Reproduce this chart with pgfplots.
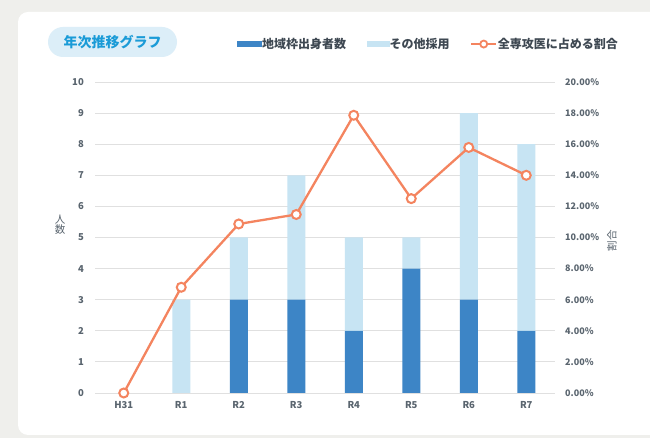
\documentclass[border=0pt]{standalone}
\usepackage{pgfplots}
\pgfplotsset{compat=1.18}
\usepackage{fontspec}
\setmainfont{Noto Sans CJK JP}
\definecolor{bgcol}{HTML}{EFEFEC}
\definecolor{darkbar}{HTML}{3D85C6}
\definecolor{lightbar}{HTML}{C7E4F3}
\definecolor{lineor}{HTML}{F4845F}
\definecolor{txtgray}{HTML}{5A656F}
\definecolor{legtxt}{HTML}{3E4852}
\definecolor{titleblue}{HTML}{1A9BD7}
\definecolor{pill}{HTML}{DCEEF8}
\definecolor{gridc}{HTML}{E0E0E0}
\begin{document}
\begin{tikzpicture}[x=1bp,y=1bp]
\useasboundingbox (0,0) rectangle (650,438);
\fill[bgcol] (0,0) rectangle (650,438);
\fill[white, rounded corners=10bp] (18,3) rectangle (680,426);
% title pill
\fill[pill, rounded corners=15bp] (48,381) rectangle (177,411);
\node[text=titleblue, font=\bfseries\fontsize{14bp}{16bp}\selectfont] at (112.5,396) {年次推移グラフ};
% axis titles
\node[text=txtgray, font=\fontsize{10.5bp}{11bp}\selectfont, align=center] at (60,213) {人\\[-1bp]数};
\node[text=txtgray, font=\fontsize{10.5bp}{11bp}\selectfont, rotate=90] at (612,197) {割合};
\begin{axis}[
  at={(95bp,45bp)}, anchor=south west,
  scale only axis, width=460bp, height=311bp,
  xmin=-0.5, xmax=7.5, ymin=0, ymax=10,
  ybar stacked, bar width=18bp,
  xtick={0,...,7},
  xticklabels={H31,R1,R2,R3,R4,R5,R6,R7},
  ytick={0,...,10},
  ymajorgrids, grid style={gridc, line width=0.9bp},
  axis line style={draw=none},
  major tick length=0pt,
  tick label style={text=txtgray, font=\bfseries\fontsize{9.5bp}{11bp}\selectfont},
  /pgf/number format/assume math mode=true,
  xticklabel style={inner sep=0pt, anchor=north, yshift=-8bp},
  yticklabel style={inner sep=0pt, anchor=east, xshift=-11bp},
]
\addplot[fill=darkbar, draw=none] coordinates {(0,0) (1,0) (2,3) (3,3) (4,2) (5,4) (6,3) (7,2)};
\addplot[fill=lightbar, draw=none] coordinates {(0,0) (1,3) (2,2) (3,4) (4,3) (5,1) (6,6) (7,6)};
\end{axis}
\begin{axis}[
  at={(95bp,45bp)}, anchor=south west,
  scale only axis, width=460bp, height=311bp,
  xmin=-0.5, xmax=7.5, ymin=0, ymax=20,
  axis y line*=right, axis x line=none,
  axis line style={draw=none},
  ytick={0,2,...,20},
  major tick length=0pt,
  yticklabel={\pgfmathprintnumber[fixed, fixed zerofill, precision=2]{\tick}\%},
  tick label style={text=txtgray, font=\bfseries\fontsize{9bp}{11bp}\selectfont},
  /pgf/number format/assume math mode=true,
  yticklabel style={inner sep=0pt, anchor=west, xshift=10bp},
  legend columns=3,
  legend style={at={(0.309,1.122)}, anchor=west, draw=none, fill=none,
    inner sep=0pt, font=\bfseries\fontsize{12bp}{14bp}\selectfont, text=legtxt,
    nodes={inner sep=0.5bp},
    /tikz/every odd column/.append style={column sep=0bp},
    /tikz/every even column/.append style={column sep=20bp}},
]
\addlegendimage{legend image code/.code={\fill[darkbar] (0bp,-2.5bp) rectangle (24bp,2.5bp);}}
\addlegendentry{地域枠出身者数}
\addlegendimage{legend image code/.code={\fill[lightbar] (0bp,-2.5bp) rectangle (22bp,2.5bp);}}
\addlegendentry{その他採用}
\addplot[color=lineor, line width=2.3bp, mark=*, mark size=4.5bp,
  mark options={fill=white, draw=lineor, line width=2bp},
  legend image code/.code={\draw[lineor, line width=2.2bp] (0bp,0bp) -- (25bp,0bp);
    \draw[lineor, fill=white, line width=1.8bp] (12.5bp,0bp) circle (3.5bp);}]
  coordinates {(0,0) (1,6.8) (2,10.87) (3,11.48) (4,17.86) (5,12.5) (6,15.79) (7,14.0)};
\addlegendentry{全専攻医に占める割合}
\end{axis}
\end{tikzpicture}
\end{document}
